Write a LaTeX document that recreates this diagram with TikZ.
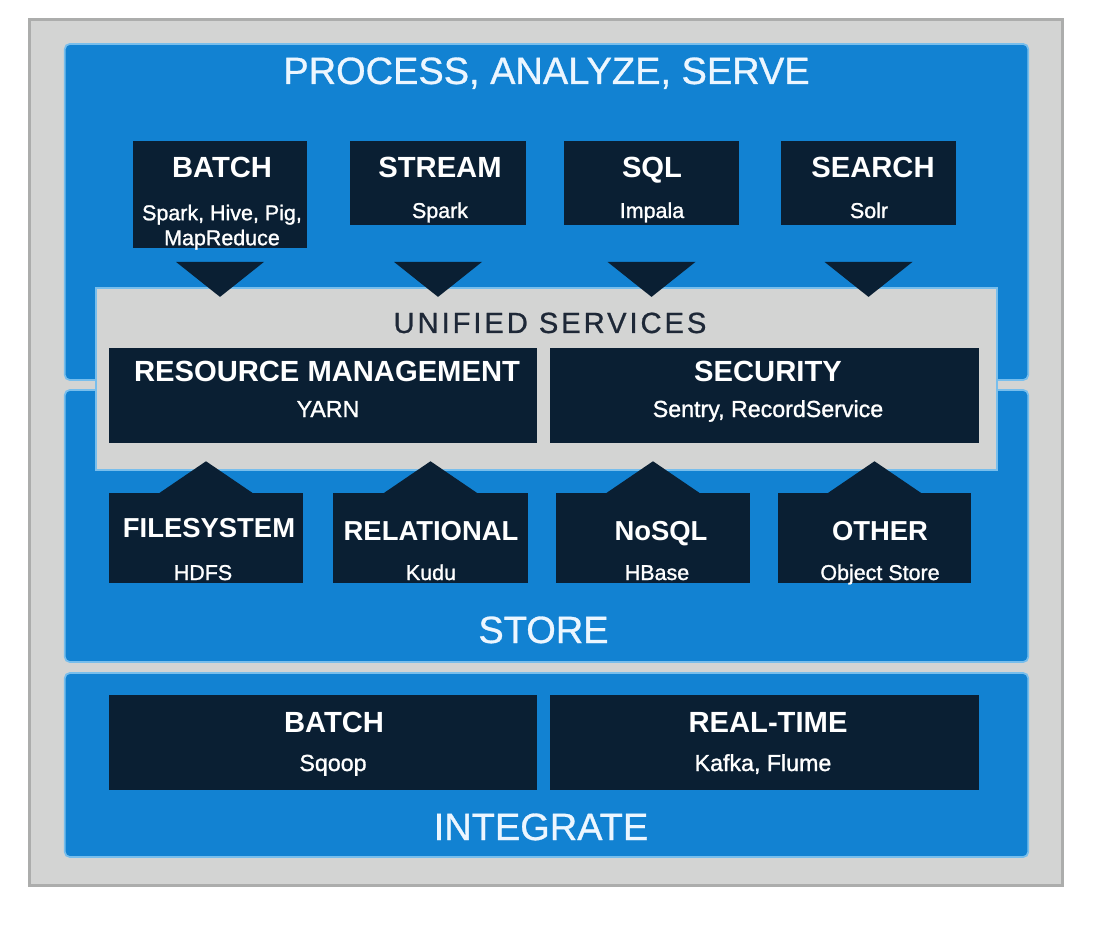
\documentclass[tikz,border=0pt]{standalone}
\usepackage{fontspec}
\setmainfont{Liberation Sans}
\newfontfamily\spacedfont[LetterSpace=10,FakeBold=0.8]{Liberation Sans}
\newfontfamily\mediumfont[FakeBold=0.8]{Liberation Sans}
\newfontfamily\subfont[FakeBold=1.2]{Liberation Sans}
\usetikzlibrary{calc}
\definecolor{framegray}{RGB}{211,212,211}
\definecolor{frameedge}{RGB}{172,173,172}
\definecolor{panelblue}{RGB}{18,130,210}
\definecolor{edgeblue}{RGB}{120,190,236}
\definecolor{navy}{RGB}{10,31,51}
\definecolor{darktext}{RGB}{30,40,55}
\definecolor{titlewhite}{RGB}{236,246,255}
\tikzstyle{frame} = [rectangle, draw=frameedge, fill=framegray, line width=1pt]
\tikzstyle{panel} = [rectangle, rounded corners=1.5pt, draw=edgeblue, fill=panelblue, line width=0.5pt]
\tikzstyle{unified} = [rectangle, draw=edgeblue, fill=framegray, line width=0.6pt]
\tikzstyle{tool} = [rectangle, fill=navy, inner sep=0pt]
\tikzstyle{pointer} = [fill=navy]
\tikzstyle{paneltitle} = [inner sep=0pt, anchor=base, text=titlewhite, font=\mediumfont\fontsize{10.8}{13}\selectfont]
\tikzstyle{ustitle} = [inner sep=0pt, anchor=base, text=darktext, font=\spacedfont\fontsize{8.3}{10}\selectfont]
\tikzstyle{toolname} = [inner sep=0pt, anchor=base, text=white, font=\bfseries\fontsize{8.3}{10}\selectfont]
\tikzstyle{storename} = [inner sep=0pt, anchor=base, text=white, font=\bfseries\fontsize{7.8}{9}\selectfont]
\tikzstyle{toolsub} = [inner sep=0pt, anchor=base, text=white, align=center, font=\subfont\fontsize{6.1}{7.1}\selectfont]
\tikzstyle{widesub} = [inner sep=0pt, anchor=base, text=white, font=\subfont\fontsize{6.6}{8}\selectfont]

\begin{document}
\begin{tikzpicture}[x=0.01cm, y=-0.01cm]
	\fill[white] (0,0) rectangle (1110,928);
	\useasboundingbox (0,0) rectangle (1110,928);
	\node (frame) [frame, minimum width=10.32cm, minimum height=8.65cm] at (546,452.5) {};

	% layers
	\node (proc) [panel, minimum width=9.63cm, minimum height=3.36cm] at (546.5,212) {};
	\node (store) [panel, minimum width=9.63cm, minimum height=2.72cm] at (546.5,526) {};
	\node (integ) [panel, minimum width=9.63cm, minimum height=1.84cm] at (546.5,765) {};
	\node (proc-t) [paneltitle] at (546.5,84) {PROCESS, ANALYZE, SERVE};
	\node (store-t) [paneltitle] at (543.5,643) {STORE};
	\node (integ-t) [paneltitle] at (541,840) {INTEGRATE};

	% process, analyze, serve
	\node (batch) [tool, minimum width=1.74cm, minimum height=1.07cm] at (220,194.5) {};
	\node (stream) [tool, minimum width=1.76cm, minimum height=0.84cm] at (438,183) {};
	\node (sql) [tool, minimum width=1.75cm, minimum height=0.84cm] at (651.5,183) {};
	\node (search) [tool, minimum width=1.75cm, minimum height=0.84cm] at (868.5,183) {};
	\node (batch-t) [toolname] at (222,178) {BATCH};
	\node (batch-s) [toolsub, anchor=north] at (222,204) {Spark, Hive, Pig,\\MapReduce};
	\node (stream-t) [toolname] at (440,178) {STREAM};
	\node (stream-s) [toolsub] at (440,218) {Spark};
	\node (sql-t) [toolname] at (652,178) {SQL};
	\node (sql-s) [toolsub] at (652,218) {Impala};
	\node (search-t) [toolname] at (873,178) {SEARCH};
	\node (search-s) [toolsub] at (869,218) {Solr};

	% unified services
	\node (us) [unified, minimum width=9.01cm, minimum height=1.82cm] at (546.5,379) {};
	\node (us-t) [ustitle] at (550,333) {UNIFIED SERVICES};
	\node (res) [tool, minimum width=4.28cm, minimum height=0.95cm] at (323,395.5) {};
	\node (sec) [tool, minimum width=4.29cm, minimum height=0.95cm] at (764.5,395.5) {};
	\node (res-t) [toolname] at (327,382) {RESOURCE MANAGEMENT};
	\node (res-s) [widesub] at (328,417) {YARN};
	\node (sec-t) [toolname] at (768,382) {SECURITY};
	\node (sec-s) [widesub] at (768,417) {Sentry, RecordService};

	\fill[pointer] ($(batch.center |- us.north)+(-44,-25)$) -- ($(batch.center |- us.north)+(44,-25)$) -- ($(batch.center |- us.north)+(0,10)$) -- cycle;
	\fill[pointer] ($(stream.center |- us.north)+(-44,-25)$) -- ($(stream.center |- us.north)+(44,-25)$) -- ($(stream.center |- us.north)+(0,10)$) -- cycle;
	\fill[pointer] ($(sql.center |- us.north)+(-44,-25)$) -- ($(sql.center |- us.north)+(44,-25)$) -- ($(sql.center |- us.north)+(0,10)$) -- cycle;
	\fill[pointer] ($(search.center |- us.north)+(-44,-25)$) -- ($(search.center |- us.north)+(44,-25)$) -- ($(search.center |- us.north)+(0,10)$) -- cycle;

	% store
	\node (fs) [tool, minimum width=1.94cm, minimum height=0.9cm] at (206,538) {};
	\node (rel) [tool, minimum width=1.95cm, minimum height=0.9cm] at (430.5,538) {};
	\node (nosql) [tool, minimum width=1.94cm, minimum height=0.9cm] at (653,538) {};
	\node (other) [tool, minimum width=1.93cm, minimum height=0.9cm] at (874.5,538) {};
	\node (fs-t) [storename] at (209,537) {FILESYSTEM};
	\node (fs-s) [toolsub] at (203,580) {HDFS};
	\node (rel-t) [storename] at (431,540) {RELATIONAL};
	\node (rel-s) [toolsub] at (431,580) {Kudu};
	\node (nosql-t) [storename] at (661,540) {NoSQL};
	\node (nosql-s) [toolsub] at (657,580) {HBase};
	\node (other-t) [storename] at (880,540) {OTHER};
	\node (other-s) [toolsub] at (880,580) {Object Store};

	\fill[pointer] ($(fs.north)+(-47,1)$) -- ($(fs.north)+(0,-31)$) -- ($(fs.north)+(47,1)$) -- cycle;
	\fill[pointer] ($(rel.north)+(-47,1)$) -- ($(rel.north)+(0,-31)$) -- ($(rel.north)+(47,1)$) -- cycle;
	\fill[pointer] ($(nosql.north)+(-47,1)$) -- ($(nosql.north)+(0,-31)$) -- ($(nosql.north)+(47,1)$) -- cycle;
	\fill[pointer] ($(other.north)+(-47,1)$) -- ($(other.north)+(0,-31)$) -- ($(other.north)+(47,1)$) -- cycle;

	% integrate
	\node (ib) [tool, minimum width=4.28cm, minimum height=0.95cm] at (323,742.5) {};
	\node (rt) [tool, minimum width=4.29cm, minimum height=0.95cm] at (764.5,742.5) {};
	\node (ib-t) [toolname] at (334,732) {BATCH};
	\node (ib-s) [widesub] at (333,771) {Sqoop};
	\node (rt-t) [toolname] at (768,732) {REAL-TIME};
	\node (rt-s) [widesub] at (763,771) {Kafka, Flume};
\end{tikzpicture}
\end{document}
